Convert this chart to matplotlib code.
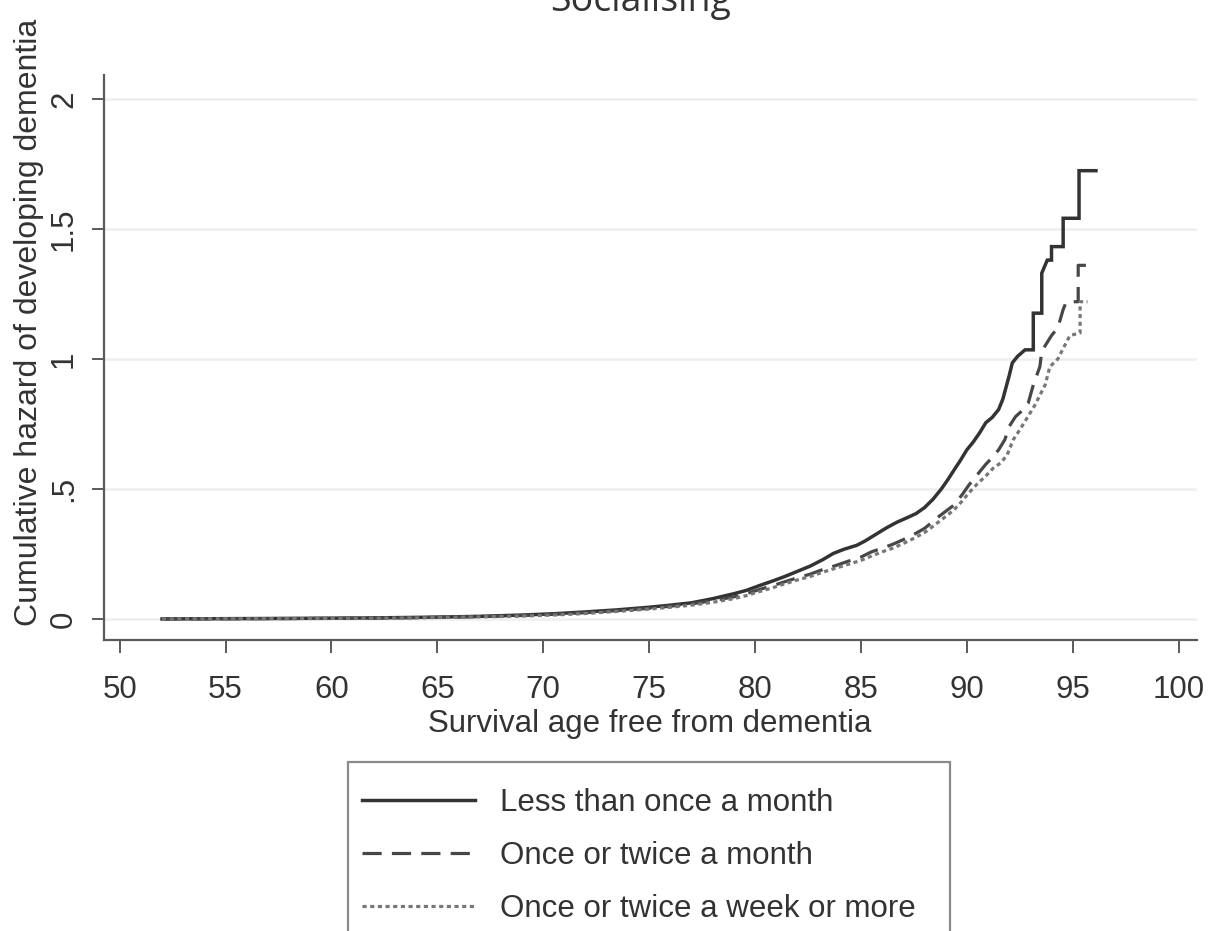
import matplotlib
matplotlib.use("Agg")
import matplotlib.pyplot as plt
from matplotlib.patches import Rectangle

# Cumulative hazard curves (age, cumulative hazard) per socialising group;
# repeated ages mark the vertical jumps of the late steps.
less_age = [52.0, 58.0, 62.0, 65.0, 67.0, 69.0, 70.5, 72.0, 73.5, 75.0,
            76.0, 77.0, 78.0, 79.0, 79.6, 80.2, 80.8, 81.4, 82.0, 82.6,
            83.2, 83.7, 84.2, 84.8, 85.2, 85.7, 86.2, 86.7, 87.2, 87.6,
            88.0, 88.4, 88.8, 89.1, 89.4, 89.7, 90.0, 90.3, 90.6, 90.9,
            91.2, 91.5, 91.7, 91.85, 92.0, 92.15, 92.4, 92.75, 93.14, 93.14,
            93.54, 93.54, 93.8, 94.0, 94.0, 94.55, 94.55, 95.3, 95.3, 96.1]
less_haz = [0.000, 0.002, 0.004, 0.007, 0.010, 0.015, 0.020, 0.027, 0.035, 0.045,
            0.053, 0.062, 0.078, 0.097, 0.110, 0.128, 0.145, 0.163, 0.183, 0.203,
            0.228, 0.252, 0.268, 0.283, 0.300, 0.325, 0.350, 0.372, 0.390, 0.405,
            0.428, 0.460, 0.500, 0.535, 0.573, 0.610, 0.650, 0.680, 0.715, 0.755,
            0.775, 0.805, 0.845, 0.890, 0.935, 0.985, 1.010, 1.035, 1.035, 1.176,
            1.176, 1.330, 1.380, 1.380, 1.432, 1.432, 1.541, 1.541, 1.724, 1.724]

month_age = [52.0, 60.0, 64.0, 67.0, 69.0, 70.5, 72.0, 73.5, 75.0, 76.0,
             77.0, 78.0, 79.0, 79.6, 80.2, 80.8, 81.4, 82.0, 82.6, 83.2,
             83.8, 84.4, 85.0, 85.5, 86.0, 86.5, 87.0, 87.5, 88.0, 88.3,
             88.7, 89.1, 89.4, 89.8, 90.1, 90.5, 90.9, 91.25, 91.5, 91.8,
             92.0, 92.3, 92.6, 92.9, 93.14, 93.45, 93.54, 94.0, 94.3, 94.55,
             94.7, 95.26, 95.26, 96.0]
month_haz = [0.000, 0.002, 0.005, 0.009, 0.013, 0.018, 0.024, 0.032, 0.041, 0.049,
             0.058, 0.070, 0.085, 0.097, 0.113, 0.127, 0.143, 0.158, 0.172, 0.190,
             0.205, 0.222, 0.238, 0.258, 0.272, 0.287, 0.305, 0.325, 0.348, 0.368,
             0.395, 0.420, 0.438, 0.480, 0.515, 0.555, 0.595, 0.625, 0.650, 0.690,
             0.740, 0.778, 0.800, 0.830, 0.900, 0.970, 1.030, 1.090, 1.120, 1.190,
             1.220, 1.220, 1.360, 1.360]

week_age = [52.0, 60.0, 64.0, 67.0, 69.0, 70.5, 72.0, 73.5, 75.0, 76.0,
            77.0, 78.0, 79.0, 79.6, 80.2, 80.8, 81.4, 82.0, 82.6, 83.2,
            83.8, 84.4, 85.0, 85.5, 86.0, 86.5, 87.0, 87.5, 88.0, 88.3,
            88.7, 89.1, 89.4, 89.8, 90.1, 90.5, 90.9, 91.25, 91.6, 91.9,
            92.2, 92.5, 92.9, 93.2, 93.45, 93.7, 93.92, 94.3, 94.55, 94.87,
            95.35, 95.35, 95.7]
week_haz = [0.000, 0.002, 0.004, 0.008, 0.011, 0.015, 0.021, 0.029, 0.038, 0.045,
            0.053, 0.064, 0.078, 0.090, 0.105, 0.119, 0.135, 0.150, 0.163, 0.180,
            0.195, 0.210, 0.225, 0.242, 0.258, 0.272, 0.290, 0.310, 0.332, 0.350,
            0.375, 0.400, 0.420, 0.455, 0.485, 0.520, 0.550, 0.580, 0.600, 0.630,
            0.690, 0.727, 0.780, 0.820, 0.860, 0.900, 0.970, 1.000, 1.040, 1.090,
            1.100, 1.220, 1.220]

group_labels = ["Less than once a month", "Once or twice a month",
                "Once or twice a week or more"]
x_ticks = [50, 55, 60, 65, 70, 75, 80, 85, 90, 95, 100]
y_ticks = [0, 0.5, 1, 1.5, 2]
y_tick_labels = ["0", ".5", "1", "1.5", "2"]

plt.rcParams["font.family"] = ["Liberation Sans", "DejaVu Sans"]

W, H = 1209, 931
fig = plt.figure(figsize=(W / 100, H / 100), dpi=100)
ax = fig.add_axes([104 / W, 1 - 640 / H, (1197 - 104) / W, (640 - 75) / H])

ax.set_xlim(49.26, 100.87)
ax.set_ylim(-0.081, 2.092)

for yv in y_ticks:
    ax.axhline(yv, color="#efefef", lw=1.8, zorder=0)

series = [
    (less_age, less_haz, None, "#333333", 2.5),
    (month_age, month_haz, (6, 3.2), "#474747", 2.3),
    (week_age, week_haz, (1.3, 1.1), "#777777", 2.3),
]
handles = []
for (xs, ys, dashes, col, lw), lab in zip(series, group_labels):
    kw = dict(color=col, lw=lw, label=lab, solid_joinstyle="miter")
    if dashes is not None:
        kw["dashes"] = dashes
    line, = ax.plot(xs, ys, **kw)
    handles.append(line)

for side in ("top", "right"):
    ax.spines[side].set_visible(False)
for side in ("left", "bottom"):
    ax.spines[side].set_color("#5a5a5a")
    ax.spines[side].set_linewidth(1.6)

ax.set_xticks(x_ticks)
ax.set_xticklabels([str(v) for v in x_ticks])
ax.set_yticks(y_ticks)
ax.set_yticklabels(y_tick_labels, rotation=90, va="center")
ax.tick_params(axis="both", direction="out", length=9, width=1.4, color="#5a5a5a",
               labelsize=22.5, labelcolor="#333333")
ax.tick_params(axis="x", pad=16)
ax.tick_params(axis="y", pad=9)

ax.set_xlabel("Survival age free from dementia", fontsize=22.5, color="#333333")
ax.xaxis.set_label_coords((650 - 104) / (1197 - 104), (640 - 709) / (640 - 75))
ax.set_ylabel("Cumulative hazard of developing dementia", fontsize=23,
              color="#333333")
ax.yaxis.set_label_coords((44 - 104) / (1197 - 104), (640 - 322) / (640 - 75))

fig.text(641 / W, 1 - 11 / H, "Socialising", ha="center", va="baseline",
         fontsize=27, color="#333333", family=["Open Sans", "DejaVu Sans"])

# legend frame runs past the lower edge of the figure
fig.patches.append(Rectangle((348 / W, -0.05), (950 - 348) / W, 0.05 + (931 - 762) / H,
                             transform=fig.transFigure, facecolor="white",
                             edgecolor="#8a8a8a", lw=1.6, zorder=1))
leg = fig.legend(handles=handles, labels=group_labels, loc="upper left",
                 bbox_to_anchor=(348 / W, 1 - 774 / H), fontsize=22.5,
                 frameon=False, handlelength=3.6, handletextpad=0.8,
                 labelspacing=0.73, borderpad=0.45, borderaxespad=0)
leg.set_zorder(2)
for t in leg.get_texts():
    t.set_color("#333333")

fig.savefig("out.png", dpi=100, facecolor="white")
